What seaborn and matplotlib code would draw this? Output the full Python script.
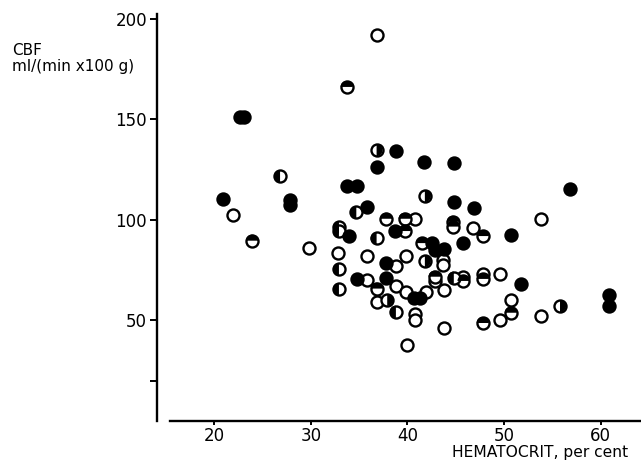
import pandas as pd
import seaborn as sns
import matplotlib.pyplot as plt
from matplotlib.path import Path
from matplotlib.transforms import Affine2D

# Hematocrit (per cent) and CBF values, grouped by symbol
filled_x = [22.7, 23.1, 38.8, 36.8, 41.7, 44.8, 33.7, 34.8, 56.8, 20.9,
            27.8, 27.8, 44.8, 46.9, 35.8, 33.9, 38.7, 50.7, 42.5, 43.8,
            42.8, 45.7, 37.8, 34.8, 37.8, 40.7, 41.3, 51.8, 60.9, 60.9]
filled_y = [151, 151, 134.3, 126, 128.5, 128, 116.7, 116.7, 115.2, 110.3,
            109.8, 107.3, 109, 105.9, 106.3, 91.9, 94.4, 92.3, 88.5, 85.5,
            85.2, 88.5, 78.3, 70.6, 71.3, 61.2, 61.2, 67.9, 62.8, 57.1]

open_x = [36.8, 21.9, 29.8, 32.8, 35.8, 39.8, 40.8, 46.8, 53.8, 38.8,
          43.7, 43.7, 35.8, 38.8, 39.8, 41.9, 43.8, 42.8, 45.8, 47.8,
          49.6, 36.8, 40.8, 40.8, 43.8, 49.6, 50.7, 53.8, 39.9]
open_y = [192, 102.5, 86.2, 83.7, 82.2, 81.8, 100.4, 95.9, 100.2, 77.2,
          79.8, 77.3, 69.9, 67.3, 63.9, 64.3, 64.9, 69.4, 71.7, 73.0,
          73.2, 59.0, 53.3, 50.0, 46.3, 50.0, 59.9, 52.1, 37.6]

# half-filled symbols: which half is black
top_x = [33.7, 23.9, 37.8, 39.7, 44.7, 44.7, 47.8, 39.7, 41.5, 36.8,
         42.8, 45.8, 47.8, 47.8, 50.7]
top_y = [166, 89.6, 100.5, 100.5, 99.0, 96.6, 91.9, 94.4, 88.4, 65.8,
         71.7, 69.6, 70.6, 48.7, 53.8]

left_x = [26.8, 34.7, 32.9, 32.9, 36.8, 32.9, 32.9, 44.8, 38.8]
left_y = [121.6, 103.8, 96.2, 94.5, 90.8, 75.5, 65.6, 71.3, 54.3]

right_x = [36.8, 41.8, 41.8, 37.9, 55.8]
right_y = [134.6, 111.8, 79.5, 60.2, 57.1]

y_ticks = [20, 50, 100, 150, 200]
y_tick_labels = ['', '50', '100', '150', '200']
x_ticks = [20, 30, 40, 50, 60]

sns.set_style('ticks', {'axes.edgecolor': 'black', 'text.color': 'black',
                        'xtick.color': 'black', 'ytick.color': 'black'})
plt.rcParams['font.family'] = ['DejaVu Sans']

df_filled = pd.DataFrame({'hct': filled_x, 'cbf': filled_y})
df_open = pd.DataFrame({'hct': open_x + top_x + left_x + right_x,
                        'cbf': open_y + top_y + left_y + right_y})
halves = {
    'top': (pd.DataFrame({'hct': top_x, 'cbf': top_y}), 90),
    'left': (pd.DataFrame({'hct': left_x, 'cbf': left_y}), 180),
    'right': (pd.DataFrame({'hct': right_x, 'cbf': right_y}), 0),
}

fig = plt.figure(figsize=(6.41, 4.62), dpi=100)
ax = fig.add_axes([170 / 641, 41 / 462, 474 / 641, 406.5 / 462])

size = 75
lw = 1.7

# open circles (also the outline of the half-filled ones)
sns.scatterplot(data=df_open, x='hct', y='cbf', ax=ax, s=size, color='white',
                edgecolor='black', linewidth=lw, zorder=3)
# black halves on top
for name, (sub, angle) in halves.items():
    half = Affine2D().rotate_deg(angle).transform_path(Path.unit_circle_righthalf())
    sns.scatterplot(data=sub, x='hct', y='cbf', ax=ax, s=size, marker=half,
                    color='black', edgecolor='none', linewidth=0, zorder=4)
sns.scatterplot(data=df_filled, x='hct', y='cbf', ax=ax, s=size, color='black',
                edgecolor='black', linewidth=lw, zorder=5)

ax.set_xlim(15.4, 64.5)
ax.set_ylim(0, 202)
ax.set_xticks(x_ticks)
ax.set_yticks(y_ticks)
ax.set_yticklabels(y_tick_labels)
ax.set_xlabel('')
ax.set_ylabel('')

sns.despine(ax=ax)
ax.spines['left'].set_position(('outward', 9.5))
ax.spines['left'].set_linewidth(1.7)
ax.spines['bottom'].set_linewidth(1.7)
ax.tick_params(axis='y', length=5, width=1.4, labelsize=12, pad=2,
               colors='black')
ax.tick_params(axis='x', length=3, width=1.4, labelsize=12, pad=1,
               colors='black')

fig.text(12 / 641, 1 - 43 / 462, 'CBF\nml/(min x100 g)', ha='left', va='top',
         fontsize=11, linespacing=1.1, color='black')
fig.text(452 / 641, 1 - 457 / 462, 'HEMATOCRIT, per cent', ha='left',
         va='baseline', fontsize=11.2, color='black')

plt.savefig('out.png', dpi=100)
